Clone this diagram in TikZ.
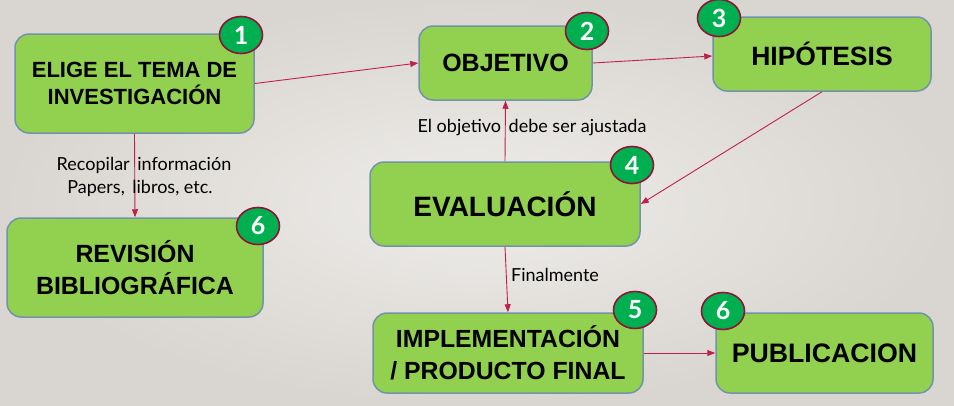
\documentclass[tikz,border=0pt]{standalone}
\usepackage{fontspec}
\setmainfont{Liberation Sans}
\newfontfamily\lblfont{Lato}
\usetikzlibrary{arrows.meta,shapes.geometric}
\definecolor{bgin}{HTML}{EEECE9}
\definecolor{bgout}{HTML}{D9D6D1}
\definecolor{boxfill}{HTML}{92D050}
\definecolor{boxline}{HTML}{7293AA}
\definecolor{badgefill}{HTML}{00B050}
\definecolor{badgeline}{HTML}{8C1538}
\definecolor{arr}{HTML}{C0204A}
\begin{document}
\begin{tikzpicture}[x=1pt,y=-1pt,
  greenbox/.style={draw=boxline,line width=1.5pt,fill=boxfill,rounded corners=14pt,
    inner sep=0pt,align=center,font=\bfseries},
  badge/.style={ellipse,draw=badgeline,line width=1.6pt,fill=badgefill,text=white,
    inner sep=0pt,minimum width=43pt,minimum height=37pt,font=\lblfont\bfseries\fontsize{25}{25}\selectfont},
  conn/.style={draw=arr,line width=0.9pt,-{Triangle[length=8pt,width=6pt]}},
  lbl/.style={inner sep=0pt,font=\lblfont\fontsize{18}{18}\selectfont}]
\shade[inner color=bgin,outer color=bgout] (0,0) rectangle (954,405);
\useasboundingbox (0,0) rectangle (954,405);

\node[greenbox,minimum width=239pt,minimum height=99pt,font=\bfseries\fontsize{22}{26.5}\selectfont]
  (elige) at (134.5,83.5) {ELIGE EL TEMA DE\\INVESTIGACIÓN};
\node[greenbox,minimum width=173pt,minimum height=74pt,font=\bfseries\fontsize{25}{25}\selectfont]
  (obj) at (505.5,63) {OBJETIVO};
\node[greenbox,minimum width=218pt,minimum height=74pt,font=\bfseries\fontsize{26.5}{26.5}\selectfont]
  (hip) at (822,54) {HIPÓTESIS};
\node[greenbox,minimum width=270pt,minimum height=84pt,font=\bfseries\fontsize{28}{28}\selectfont]
  (eva) at (505,204) {EVALUACIÓN};
\node[greenbox,minimum width=270pt,minimum height=80pt,font=\bfseries\fontsize{24.8}{32}\selectfont]
  (impl) at (508,353) {IMPLEMENTACIÓN\\/ PRODUCTO FINAL};
\node[greenbox,minimum width=217pt,minimum height=80pt,font=\bfseries\fontsize{26.7}{26.7}\selectfont]
  (pub) at (824.5,353) {PUBLICACION};
\node[greenbox,minimum width=256pt,minimum height=99pt,font=\bfseries\fontsize{24.9}{32}\selectfont]
  (rev) at (135,267.5) {REVISIÓN\\BIBLIOGRÁFICA};

\node[badge] (b1) at (241,35) {1};
\node[badge] (b2) at (587,31) {2};
\node[badge] (b3) at (719,18) {3};
\node[badge] (b4) at (632,165) {4};
\node[badge] (b5) at (635,310) {5};
\node[badge] (b6a) at (723,311) {6};
\node[badge] (b6b) at (258,226) {6};

\draw[conn] (elige.east) -- (obj.west);
\draw[conn] (obj.east) -- ([yshift=-2pt]hip.west);
\draw[conn] (hip.south) -- (eva.east);
\draw[conn] (eva.north) -- (obj.south);
\draw[conn] (elige.south) -- (rev.north);
\draw[conn] (eva.south) -- (impl.north);
\draw[conn] (impl.east) -- (pub.west);

\node[lbl] (l1) at (144,165) {Recopilar\hspace{3pt} información};
\node[lbl] (l2) at (140,188) {Papers,\hspace{3pt} libros, etc.};
\node[lbl] (l3) at (532,128) {El objetivo\hspace{3pt} debe ser ajustada};
\node[lbl] (l4) at (555,275) {Finalmente};
\end{tikzpicture}
\end{document}
